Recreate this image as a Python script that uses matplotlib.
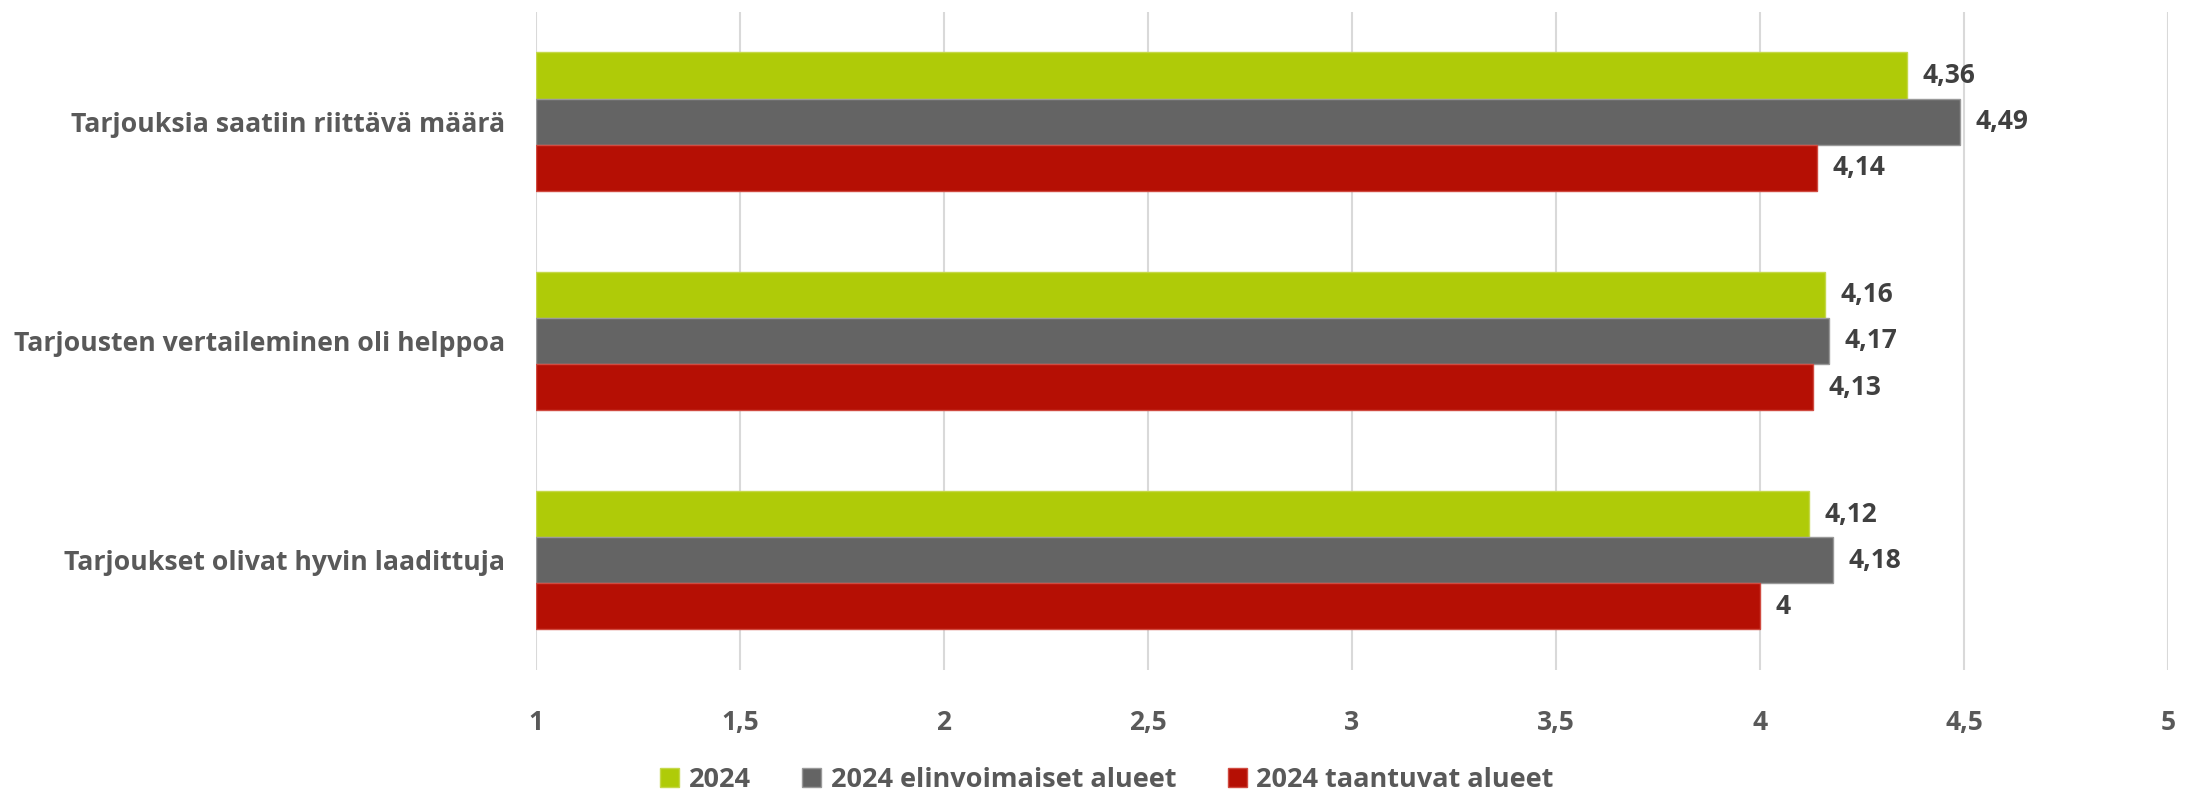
# plot.py - grouped horizontal bars, tarjousten arviot 2024

import matplotlib.pyplot as plt
import numpy as np

# 1. Data
categories = [
    "Tarjouksia saatiin riittävä määrä",
    "Tarjousten vertaileminen oli helppoa",
    "Tarjoukset olivat hyvin laadittuja",
]
series_names = ["2024", "2024 elinvoimaiset alueet", "2024 taantuvat alueet"]
vals_2024 = [4.36, 4.16, 4.12]
vals_elinvoimaiset = [4.49, 4.17, 4.18]
vals_taantuvat = [4.14, 4.13, 4.00]
x_ticks = [1, 1.5, 2, 2.5, 3, 3.5, 4, 4.5, 5]

colors = ["#AFCB08", "#646464", "#B50F04"]
edges = ["#C5D84A", "#999999", "#D04A40"]
text_col = "#595959"
value_col = "#404040"

plt.rcParams["font.family"] = ["Open Sans", "DejaVu Sans"]
plt.rcParams["font.weight"] = "bold"


def fi(v):
    # Finnish decimal comma
    return f"{v:g}".replace(".", ",")


# 2. Figure
fig = plt.figure(figsize=(21.9, 7.93), dpi=100)
ax = fig.add_axes([0.2447, 0.155, 0.7453, 0.830])

y = np.arange(len(categories))
h = 0.21
all_vals = [vals_2024, vals_elinvoimaiset, vals_taantuvat]

for i, (name, vals) in enumerate(zip(series_names, all_vals)):
    pos = y + (i - 1) * h
    ax.barh(pos, np.array(vals) - 1, left=1, height=h, color=colors[i],
            edgecolor=edges[i], linewidth=1, label=name, zorder=3)
    for p, v in zip(pos, vals):
        ax.annotate(fi(v), xy=(v, p), xytext=(11, 0), textcoords="offset points",
                    ha="left", va="center", fontsize=19, fontweight="bold",
                    color=value_col)

# 3. Axes styling
ax.set_xlim(1, 5)
ax.set_ylim(len(categories) - 0.5, -0.5)
ax.set_xticks(x_ticks)
ax.set_xticklabels([fi(t) for t in x_ticks])
ax.set_yticks(y)
ax.set_yticklabels(categories)
ax.tick_params(axis="x", length=0, pad=28, labelsize=19, labelcolor=text_col)
ax.tick_params(axis="y", length=0, pad=22, labelsize=19.2, labelcolor=text_col)
for lab in ax.get_xticklabels() + ax.get_yticklabels():
    lab.set_fontweight("bold")

ax.grid(axis="x", color="#D9D9D9", linewidth=1.5, zorder=0)
for s in ax.spines.values():
    s.set_visible(False)

# 4. Legend
fig.legend(loc="center", bbox_to_anchor=(0.5055, 0.016), ncol=3, frameon=False,
           fontsize=19.5, handlelength=0.7, handleheight=0.7, handletextpad=0.35,
           columnspacing=1.9, labelcolor=text_col)

plt.savefig("out.png", dpi=100)
plt.close()
print("Saved out.png")
